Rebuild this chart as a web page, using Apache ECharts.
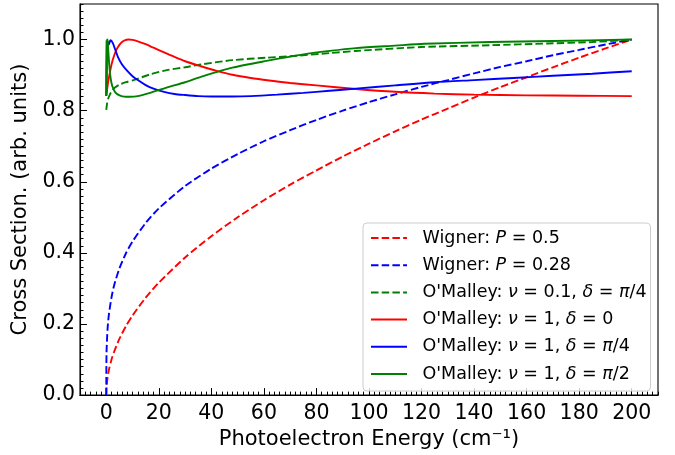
<!DOCTYPE html>
<html>
<head>
<meta charset="utf-8">
<script src="https://cdn.jsdelivr.net/npm/echarts@6/dist/echarts.min.js"></script>
<style>
html, body { margin: 0; padding: 0; background: #fff; }
#chart { width: 675px; height: 455px; }
</style>
</head>
<body>
<div id="chart"></div>
<script>
// tick labels
var xTicks = [0, 20, 40, 60, 80, 100, 120, 140, 160, 180, 200];
var yTicks = [0, 0.2, 0.4, 0.6, 0.8, 1.0];

// Wigner threshold curves
var wignerEnergy = [0, 0.1, 0.5, 1, 2, 3, 5, 7.5, 10, 15, 20, 30, 40, 50, 60, 70, 80, 90, 100, 110, 120, 130, 140, 150, 160, 170, 180, 190, 200];
var wignerP05 = [0, 0.022, 0.05, 0.071, 0.1, 0.122, 0.158, 0.194, 0.224, 0.274, 0.316, 0.387, 0.447, 0.5, 0.548, 0.592, 0.632, 0.671, 0.707, 0.742, 0.775, 0.806, 0.837, 0.866, 0.894, 0.922, 0.949, 0.975, 1.0];
var wignerP028 = [0, 0.12, 0.187, 0.227, 0.275, 0.309, 0.356, 0.399, 0.432, 0.484, 0.525, 0.588, 0.637, 0.678, 0.714, 0.745, 0.774, 0.8, 0.824, 0.846, 0.867, 0.886, 0.905, 0.923, 0.939, 0.956, 0.971, 0.986, 1.0];

// O'Malley nu=0.1, delta=pi/4
var omA_E = [0, 0.3, 0.7, 1.4, 2.3, 3.3, 5, 7.5, 10.4, 16.7, 23, 30, 36, 48, 61, 70, 85, 95, 120, 146, 168, 185, 200];
var omA_V = [0.802, 0.82, 0.833, 0.846, 0.857, 0.865, 0.873, 0.88, 0.886, 0.902, 0.914, 0.922, 0.93, 0.942, 0.949, 0.953, 0.962, 0.968, 0.979, 0.984, 0.989, 0.993, 1.0];

// O'Malley nu=1, delta=0
var omB_E = [0, 0.5, 1, 2, 3, 4, 5, 6, 7, 8.5, 10, 12, 15, 18, 22, 26, 30, 36, 42, 48, 55, 62, 70, 80, 95, 110, 125, 140, 160, 180, 200];
var omB_V = [0.842, 0.87, 0.893, 0.93, 0.955, 0.973, 0.985, 0.993, 0.998, 1.0, 0.999, 0.995, 0.987, 0.977, 0.964, 0.951, 0.939, 0.925, 0.912, 0.901, 0.892, 0.885, 0.878, 0.871, 0.861, 0.853, 0.848, 0.845, 0.843, 0.842, 0.841];

// O'Malley nu=1, delta=pi/4
var omC_E = [0, 0.2, 0.5, 0.9, 1.6, 2.5, 3.5, 4.5, 6, 8, 10, 12, 15, 18, 22, 26, 30, 35, 40, 48, 55, 65, 75, 85, 95, 110, 125, 140, 155, 170, 185, 200];
var omC_V = [0.842, 0.98, 0.995, 0.985, 0.998, 0.99, 0.97, 0.95, 0.93, 0.912, 0.897, 0.886, 0.872, 0.862, 0.853, 0.847, 0.844, 0.841, 0.84, 0.84, 0.841, 0.845, 0.85, 0.856, 0.862, 0.871, 0.88, 0.886, 0.892, 0.898, 0.904, 0.911];

// O'Malley nu=1, delta=pi/2
var omD_E = [0, 0.1, 0.2, 0.35, 0.5, 0.8, 1.1, 1.5, 2, 2.6, 3.3, 4.5, 5.8, 7.5, 9, 12, 16.7, 23, 30, 36, 48, 61, 74, 85, 95, 110, 121, 146, 170, 200];
var omD_V = [0.842, 1.0, 0.85, 1.0, 0.997, 0.965, 0.932, 0.9, 0.877, 0.863, 0.853, 0.845, 0.841, 0.839, 0.839, 0.841, 0.85, 0.865, 0.88, 0.895, 0.921, 0.94, 0.957, 0.968, 0.976, 0.983, 0.988, 0.993, 0.996, 1.0];

var seriesNames = ['wP05', 'wP028', 'omA', 'omB', 'omC', 'omD'];
var legendLabels = [
  'Wigner: {i|P} = 0.5',
  'Wigner: {i|P} = 0.28',
  "O'Malley: {i|ν} = 0.1, {i|δ} = {i|π}/4",
  "O'Malley: {i|ν} = 1, {i|δ} = 0",
  "O'Malley: {i|ν} = 1, {i|δ} = {i|π}/4",
  "O'Malley: {i|ν} = 1, {i|δ} = {i|π}/2"
];

var font = 'DejaVu Sans';
var dash = [7.5, 3.2];

function pairs(xs, ys) {
  return xs.map(function (x, i) { return [x, ys[i]]; });
}

function mkLine(name, xs, ys, color, type) {
  return {
    name: name,
    type: 'line',
    data: pairs(xs, ys),
    color: color,
    showSymbol: false,
    symbol: 'none',
    smooth: 0.25,
    clip: true,
    lineStyle: { color: color, width: 1.9, type: type }
  };
}

var myChart = echarts.init(document.getElementById('chart'));

var option = {
  animation: false,
  grid: { left: 80, right: 17, top: 4, bottom: 57, show: true, borderColor: '#000', borderWidth: 1.1 },
  xAxis: [
    {
      type: 'value', min: -10, max: 210, position: 'bottom',
      name: 'Photoelectron Energy (cm⁻¹)', nameLocation: 'middle', nameGap: 27,
      nameTextStyle: { fontFamily: font, fontSize: 21, color: '#000' },
      axisLine: { show: true, onZero: false, lineStyle: { color: '#000', width: 1.1 } },
      axisTick: { show: true, inside: true, length: 7, customValues: xTicks, lineStyle: { color: '#000', width: 1 } },
      axisLabel: { customValues: xTicks, fontFamily: font, fontSize: 20.5, color: '#000', margin: 8 },
      splitLine: { show: false }
    },
    {
      // minor ticks
      type: 'value', min: -10, max: 210, interval: 2, position: 'bottom',
      axisLine: { show: false, onZero: false },
      axisTick: { show: true, inside: true, length: 3.5, lineStyle: { color: '#000', width: 1 } },
      axisLabel: { show: false },
      splitLine: { show: false }
    }
  ],
  yAxis: [
    {
      type: 'value', min: 0, max: 1.1, position: 'left',
      name: 'Cross Section. (arb. units)', nameLocation: 'middle', nameGap: 38,
      nameTextStyle: { fontFamily: font, fontSize: 21, color: '#000' },
      axisLine: { show: true, onZero: false, lineStyle: { color: '#000', width: 1.1 } },
      axisTick: { show: true, inside: true, length: 7, customValues: yTicks, lineStyle: { color: '#000', width: 1 } },
      axisLabel: {
        customValues: yTicks, fontFamily: font, fontSize: 20.5, color: '#000', margin: 5,
        formatter: function (v) { return v.toFixed(1); }
      },
      splitLine: { show: false }
    },
    {
      // minor ticks
      type: 'value', min: 0, max: 1.1, interval: 0.02, position: 'left',
      axisLine: { show: false, onZero: false },
      axisTick: { show: true, inside: true, length: 3.5, lineStyle: { color: '#000', width: 1 } },
      axisLabel: { show: false },
      splitLine: { show: false }
    }
  ],
  legend: {
    orient: 'vertical', left: 363, top: 223,
    itemWidth: 36, itemHeight: 14, itemGap: 9.2,
    padding: [6, 4, 8, 7],
    backgroundColor: 'rgba(255,255,255,0.8)',
    borderColor: '#cccccc', borderWidth: 1, borderRadius: 4,
    itemStyle: { opacity: 0 },
    data: seriesNames,
    formatter: function (name) {
      return '{g| }' + legendLabels[seriesNames.indexOf(name)];
    },
    textStyle: {
      fontFamily: font, fontSize: 17.5, color: '#000', lineHeight: 17.5,
      rich: {
        g: { width: 10.5, fontSize: 17.5 },
        i: { fontStyle: 'italic', fontFamily: font, fontSize: 17.5, color: '#000' }
      }
    }
  },
  series: [
    mkLine(seriesNames[0], wignerEnergy, wignerP05, '#ff0000', dash),
    mkLine(seriesNames[1], wignerEnergy, wignerP028, '#0000ff', dash),
    mkLine(seriesNames[2], omA_E, omA_V, '#008000', dash),
    mkLine(seriesNames[3], omB_E, omB_V, '#ff0000', 'solid'),
    mkLine(seriesNames[4], omC_E, omC_V, '#0000ff', 'solid'),
    mkLine(seriesNames[5], omD_E, omD_V, '#008000', 'solid')
  ]
};

myChart.setOption(option);
</script>
</body>
</html>
